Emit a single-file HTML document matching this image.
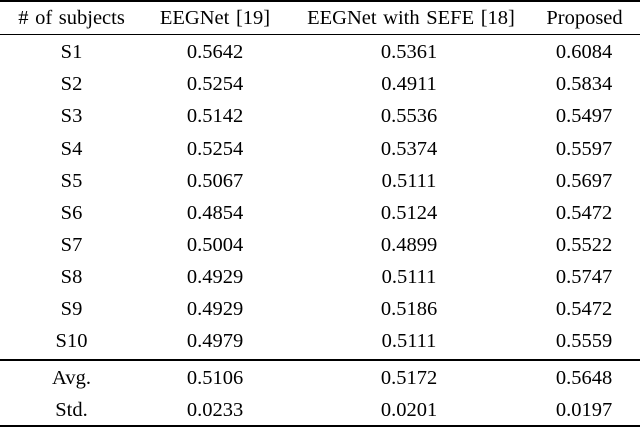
<!DOCTYPE html>
<html>
<head>
<meta charset="utf-8">
<style>
  html, body { margin: 0; padding: 0; background: #fff; }
  body { width: 640px; height: 429px; position: relative; overflow: hidden;
         font-family: "Liberation Serif", "Times New Roman", serif; color: #000; }
  .c { position: absolute; width: 220px; text-align: center; font-size: 20.5px;
       line-height: 20.5px; height: 21px; white-space: nowrap; word-spacing: 1.5px; }
  .rule { position: absolute; left: 0; width: 640px; background: #000; }
</style>
</head>
<body>
  <div class="rule" style="top:0px;height:1.6px;"></div>
  <div class="rule" style="top:33.6px;height:1.5px;"></div>
  <div class="rule" style="top:359.2px;height:1.5px;"></div>
  <div class="rule" style="top:425.4px;height:1.8px;"></div>

  <div class="c" style="left:-38.5px;top:8.3px;"># of subjects</div>
  <div class="c" style="left:105px;top:8.3px;">EEGNet [19]</div>
  <div class="c" style="left:301px;top:8.3px;">EEGNet with SEFE [18]</div>
  <div class="c" style="left:474.5px;top:8.3px;">Proposed</div>

  <div class="c" style="left:-38.5px;top:42.1px;">S1</div>
  <div class="c" style="left:105px;top:42.1px;">0.5642</div>
  <div class="c" style="left:299px;top:42.1px;">0.5361</div>
  <div class="c" style="left:474px;top:42.1px;">0.6084</div>

  <div class="c" style="left:-38.5px;top:74.25px;">S2</div>
  <div class="c" style="left:105px;top:74.25px;">0.5254</div>
  <div class="c" style="left:299px;top:74.25px;">0.4911</div>
  <div class="c" style="left:474px;top:74.25px;">0.5834</div>

  <div class="c" style="left:-38.5px;top:106.4px;">S3</div>
  <div class="c" style="left:105px;top:106.4px;">0.5142</div>
  <div class="c" style="left:299px;top:106.4px;">0.5536</div>
  <div class="c" style="left:474px;top:106.4px;">0.5497</div>

  <div class="c" style="left:-38.5px;top:138.55px;">S4</div>
  <div class="c" style="left:105px;top:138.55px;">0.5254</div>
  <div class="c" style="left:299px;top:138.55px;">0.5374</div>
  <div class="c" style="left:474px;top:138.55px;">0.5597</div>

  <div class="c" style="left:-38.5px;top:170.7px;">S5</div>
  <div class="c" style="left:105px;top:170.7px;">0.5067</div>
  <div class="c" style="left:299px;top:170.7px;">0.5111</div>
  <div class="c" style="left:474px;top:170.7px;">0.5697</div>

  <div class="c" style="left:-38.5px;top:202.85px;">S6</div>
  <div class="c" style="left:105px;top:202.85px;">0.4854</div>
  <div class="c" style="left:299px;top:202.85px;">0.5124</div>
  <div class="c" style="left:474px;top:202.85px;">0.5472</div>

  <div class="c" style="left:-38.5px;top:235px;">S7</div>
  <div class="c" style="left:105px;top:235px;">0.5004</div>
  <div class="c" style="left:299px;top:235px;">0.4899</div>
  <div class="c" style="left:474px;top:235px;">0.5522</div>

  <div class="c" style="left:-38.5px;top:267.15px;">S8</div>
  <div class="c" style="left:105px;top:267.15px;">0.4929</div>
  <div class="c" style="left:299px;top:267.15px;">0.5111</div>
  <div class="c" style="left:474px;top:267.15px;">0.5747</div>

  <div class="c" style="left:-38.5px;top:299.3px;">S9</div>
  <div class="c" style="left:105px;top:299.3px;">0.4929</div>
  <div class="c" style="left:299px;top:299.3px;">0.5186</div>
  <div class="c" style="left:474px;top:299.3px;">0.5472</div>

  <div class="c" style="left:-38.5px;top:331.45px;">S10</div>
  <div class="c" style="left:105px;top:331.45px;">0.4979</div>
  <div class="c" style="left:299px;top:331.45px;">0.5111</div>
  <div class="c" style="left:474px;top:331.45px;">0.5559</div>

  <div class="c" style="left:-38.5px;top:367.8px;">Avg.</div>
  <div class="c" style="left:105px;top:367.8px;">0.5106</div>
  <div class="c" style="left:299px;top:367.8px;">0.5172</div>
  <div class="c" style="left:474px;top:367.8px;">0.5648</div>

  <div class="c" style="left:-38.5px;top:400.1px;">Std.</div>
  <div class="c" style="left:105px;top:400.1px;">0.0233</div>
  <div class="c" style="left:299px;top:400.1px;">0.0201</div>
  <div class="c" style="left:474px;top:400.1px;">0.0197</div>
</body>
</html>
